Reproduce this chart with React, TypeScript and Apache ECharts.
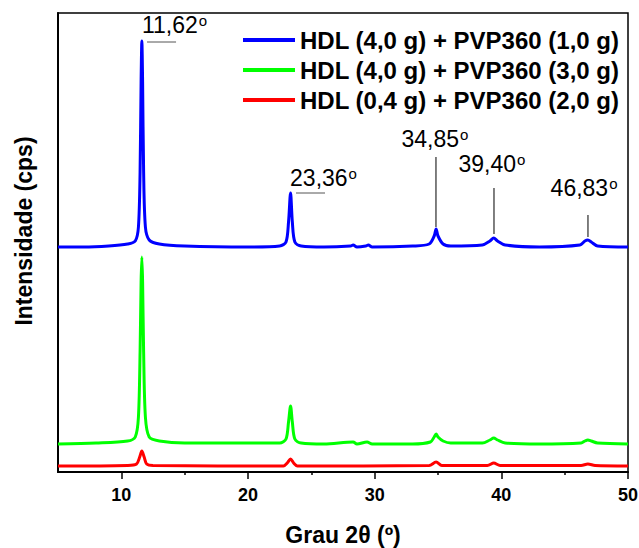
import React, { useEffect, useRef } from "react";
import * as echarts from "echarts";

const seriesNames = [
  "HDL (4,0 g) + PVP360 (1,0 g)",
  "HDL (4,0 g) + PVP360 (3,0 g)",
  "HDL (0,4 g) + PVP360 (2,0 g)",
];
const seriesColors = ["#0000FF", "#00FF00", "#FF0000"];

const blueData = [
  [5, 225], [7, 225], [9, 226], [10.5, 228], [11.1, 231], [11.35, 245], [11.48, 300], [11.56, 390],
  [11.62, 431], [11.68, 390], [11.76, 300], [11.9, 245], [12.2, 232], [13, 228], [15, 226], [20, 225],
  [22.5, 226], [23.0, 230], [23.2, 250], [23.36, 279], [23.5, 250], [23.7, 230], [24.2, 226], [26, 225],
  [28.1, 226], [28.3, 227], [28.6, 225], [29.3, 226], [29.5, 227], [29.8, 225], [33, 226], [34.3, 228],
  [34.7, 236], [34.85, 243], [35.0, 236], [35.4, 228], [36, 226], [38.5, 227], [39.1, 231], [39.4, 234],
  [39.7, 231], [40.3, 227], [43, 225], [46.2, 227], [46.6, 231], [46.83, 232], [47.1, 230], [47.6, 226],
  [50, 225],
];

const greenData = [
  [5, 28], [8, 29], [10.5, 31], [11.1, 35], [11.35, 55], [11.48, 120], [11.56, 190], [11.62, 215],
  [11.68, 190], [11.76, 120], [11.9, 55], [12.2, 35], [13, 31], [15, 29], [20, 29], [22.5, 29],
  [23.0, 33], [23.2, 50], [23.36, 66], [23.5, 50], [23.7, 33], [24.2, 29], [26, 28], [28.3, 30],
  [28.6, 28], [29.4, 30], [29.8, 28], [33, 28], [34.4, 30], [34.7, 35], [34.85, 38], [35.0, 35],
  [35.4, 31], [36, 29], [38.5, 29], [39.1, 32], [39.4, 34], [39.7, 32], [40.3, 29], [43, 28],
  [46.3, 29], [46.6, 31], [46.83, 32], [47.1, 31], [47.6, 29], [50, 28],
];

const redData = [
  [5, 6], [10.5, 6.5], [11.2, 8], [11.45, 15], [11.62, 21], [11.8, 15], [12.0, 8], [12.5, 6.5],
  [22.8, 6], [23.1, 9], [23.36, 13], [23.6, 9], [23.9, 6], [34.3, 6.5], [34.85, 10], [35.3, 6.5],
  [38.9, 6.5], [39.4, 9], [39.9, 6.5], [46.3, 6.5], [46.83, 8], [47.4, 6.5], [50, 6],
];

const xMajorTicks = [10, 20, 30, 40, 50];
const xMinorTicks = [15, 25, 35, 45];

// peak annotations: label, text anchor (2θ, value), leader line from/to
const annLabels = ["11,62", "23,36", "34,85", "39,40", "46,83"];
const annTextPos = [[11.63, 435], [23.32, 282], [34.76, 321], [39.26, 296], [46.53, 272]];
const annTextAlign = ["left", "left", "center", "center", "center"];
const annLineFrom = [[12.03, 430], [23.79, 279], [34.84, 315], [39.42, 284], [46.84, 257]];
const annLineTo = [[14.32, 430], [26.08, 279], [34.84, 245], [39.42, 238], [46.84, 235]];
const annLineColor = ["#555555", "#555555", "#000000", "#000000", "#000000"];

const FONT = "'Liberation Sans', Arial, sans-serif";

export default function App() {
  const ref = useRef<HTMLDivElement>(null);
  useEffect(() => {
    if (!ref.current) return;
    const chart = echarts.init(ref.current, null, { renderer: "svg" });
    const datas = [blueData, greenData, redData];
    chart.setOption({
      animation: false,
      backgroundColor: "#ffffff",
      textStyle: { fontFamily: FONT },
      grid: {
        left: 58, top: 13, right: 11, bottom: 76,
        outerBoundsMode: "none",
        containLabel: false,
        show: true, borderColor: "#000", borderWidth: 1.5,
      },
      legend: {
        orient: "vertical",
        left: 243,
        top: 28,
        padding: 0,
        itemWidth: 52,
        itemHeight: 4,
        itemGap: 6,
        icon: "rect",
        data: seriesNames,
        textStyle: { fontFamily: FONT, fontWeight: "bold", fontSize: 24, color: "#000", lineHeight: 24 },
      },
      xAxis: [
        {
          type: "value", min: 5, max: 50, interval: 5,
          axisLine: { show: true, onZero: false, lineStyle: { color: "#000", width: 2 } },
          axisTick: { show: true, length: 7, customValues: xMajorTicks, lineStyle: { color: "#000", width: 1.5 } },
          axisLabel: {
            customValues: xMajorTicks,
            fontFamily: FONT, fontWeight: "bold", fontSize: 18, color: "#000", margin: 14,
          },
          splitLine: { show: false },
          name: "Grau 2θ (º)",
          nameLocation: "middle",
          nameGap: 51,
          nameTextStyle: { fontFamily: FONT, fontWeight: "bold", fontSize: 23, color: "#000" },
        },
        {
          type: "value", min: 5, max: 50, interval: 5, position: "bottom",
          axisLine: { show: false },
          axisTick: { show: true, length: 3, customValues: xMinorTicks, lineStyle: { color: "#000", width: 1.5 } },
          axisLabel: { show: false },
          splitLine: { show: false },
        },
      ],
      yAxis: {
        type: "value", min: 0, max: 459,
        axisLine: { show: true, lineStyle: { color: "#000", width: 2 } },
        axisTick: { show: false },
        axisLabel: { show: false },
        splitLine: { show: false },
      },
      series: datas.map((d, i) => ({
        name: seriesNames[i],
        type: "line",
        data: d,
        xAxisIndex: 0,
        showSymbol: false,
        symbol: "none",
        smooth: 0.3,
        color: seriesColors[i],
        lineStyle: { width: 3, color: seriesColors[i] },
        z: 5 - i,
      })),
    });

    const graphic: any[] = [
      {
        type: "text",
        x: 24, y: 231, rotation: Math.PI / 2,
        style: {
          text: "Intensidade (cps)", fill: "#000",
          font: `bold 23px ${FONT}`, align: "center", verticalAlign: "middle",
        },
      },
    ];
    annLabels.forEach((lab, i) => {
      const tp = chart.convertToPixel({ gridIndex: 0 }, annTextPos[i]) as number[];
      const a = chart.convertToPixel({ gridIndex: 0 }, annLineFrom[i]) as number[];
      const b = chart.convertToPixel({ gridIndex: 0 }, annLineTo[i]) as number[];
      graphic.push({
        type: "text", x: tp[0], y: tp[1], z: 10,
        style: {
          text: `{n|${lab}}{s|o}`,
          fill: "#000",
          align: annTextAlign[i], verticalAlign: "bottom",
          rich: {
            n: { fontFamily: FONT, fontSize: 23, fill: "#000", lineHeight: 24 },
            s: { fontFamily: FONT, fontSize: 15, fill: "#000", lineHeight: 24, verticalAlign: "top", padding: [0, 0, 8, 1] },
          },
        },
      });
      graphic.push({
        type: "line", z: 10,
        shape: { x1: a[0], y1: a[1], x2: b[0], y2: b[1] },
        style: { stroke: annLineColor[i], lineWidth: 1 },
      });
    });
    chart.setOption({ graphic });
    return () => chart.dispose();
  }, []);
  return <div ref={ref} style={{ width: 639, height: 548, position: "absolute", left: 0, top: 0 }} />;
}
